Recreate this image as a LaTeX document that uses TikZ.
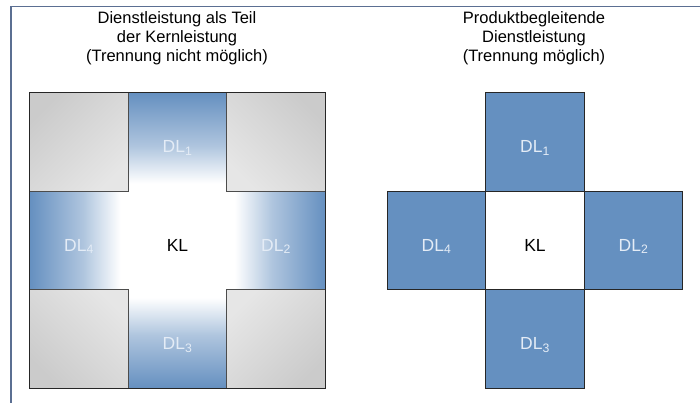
\documentclass[tikz,border=0pt]{standalone}
\usepackage{fontspec}
\setmainfont{Liberation Sans}
\usetikzlibrary{positioning}
\definecolor{dlblue}{HTML}{6590C0}
\definecolor{framecol}{HTML}{5B6F92}
\definecolor{cornerdark}{HTML}{CBCBCB}
\definecolor{cornerlight}{HTML}{E6E6E6}
\definecolor{labelcol}{HTML}{E4ECF6}
\pgfdeclareverticalshading{armfade}{100bp}{color(0bp)=(white); color(25bp)=(white);
  color(29bp)=(white); color(48bp)=(dlblue!52); color(75bp)=(dlblue); color(100bp)=(dlblue)}
\tikzset{cell/.style={shape=rectangle,minimum size=98.5pt,inner sep=0pt,outer sep=0pt,
    font=\fontsize{17.5}{18}\selectfont,text=labelcol,text height=21pt,text depth=0pt}}
\tikzset{dlbox/.style={cell,fill=dlblue,draw=black!85,line width=0.9pt}}
\tikzset{klbox/.style={cell,fill=white,draw=black!85,line width=0.9pt,text=black}}
\tikzset{armbox/.style={cell,shading=armfade,shading angle=#1}}
\tikzset{cornerbox/.style={cell,draw=black!70,line width=0.9pt,
    top color=cornerdark,bottom color=cornerlight,shading angle=#1}}
\tikzset{title/.style={align=center,font=\fontsize{16.5}{19}\selectfont}}

\begin{document}
\begin{tikzpicture}[x=1pt,y=-1pt,node distance = 98.5pt]
  \useasboundingbox (0,0) rectangle (700,403);
  \draw[framecol,line width=1.5pt] (11,403) -- (11,6.5) -- (700,6.5);

  % titles
  \node (T1) [title] at (177,38) {Dienstleistung als Teil\\der Kernleistung\\(Trennung nicht möglich)};
  \node (T2) [title] at (534,38) {Produktbegleitende\\Dienstleistung\\(Trennung möglich)};

  % left: service as part of the core
  \node (KLa) [cell,fill=white,text=black] at (177.5,240.5) {KL};
  \node (DL1a) [armbox=0,above of = KLa] {DL\textsubscript{1}};
  \node (DL3a) [armbox=180,below of = KLa] {DL\textsubscript{3}};
  \node (DL4a) [armbox=90,left of = KLa] {DL\textsubscript{4}};
  \node (DL2a) [armbox=-90,right of = KLa] {DL\textsubscript{2}};
  \node (TLa) [cornerbox=45,left of = DL1a] {};
  \node (TRa) [cornerbox=-45,right of = DL1a] {};
  \node (BLa) [cornerbox=135,left of = DL3a] {};
  \node (BRa) [cornerbox=-135,right of = DL3a] {};
  \draw[black!85,line width=1.2pt] (TLa.north west) rectangle (BRa.south east);

  % right: separable service
  \node (KLb) [klbox] at (535,240.5) {KL};
  \node (DL1b) [dlbox,above of = KLb] {DL\textsubscript{1}};
  \node (DL2b) [dlbox,right of = KLb] {DL\textsubscript{2}};
  \node (DL3b) [dlbox,below of = KLb] {DL\textsubscript{3}};
  \node (DL4b) [dlbox,left of = KLb] {DL\textsubscript{4}};
\end{tikzpicture}
\end{document}
